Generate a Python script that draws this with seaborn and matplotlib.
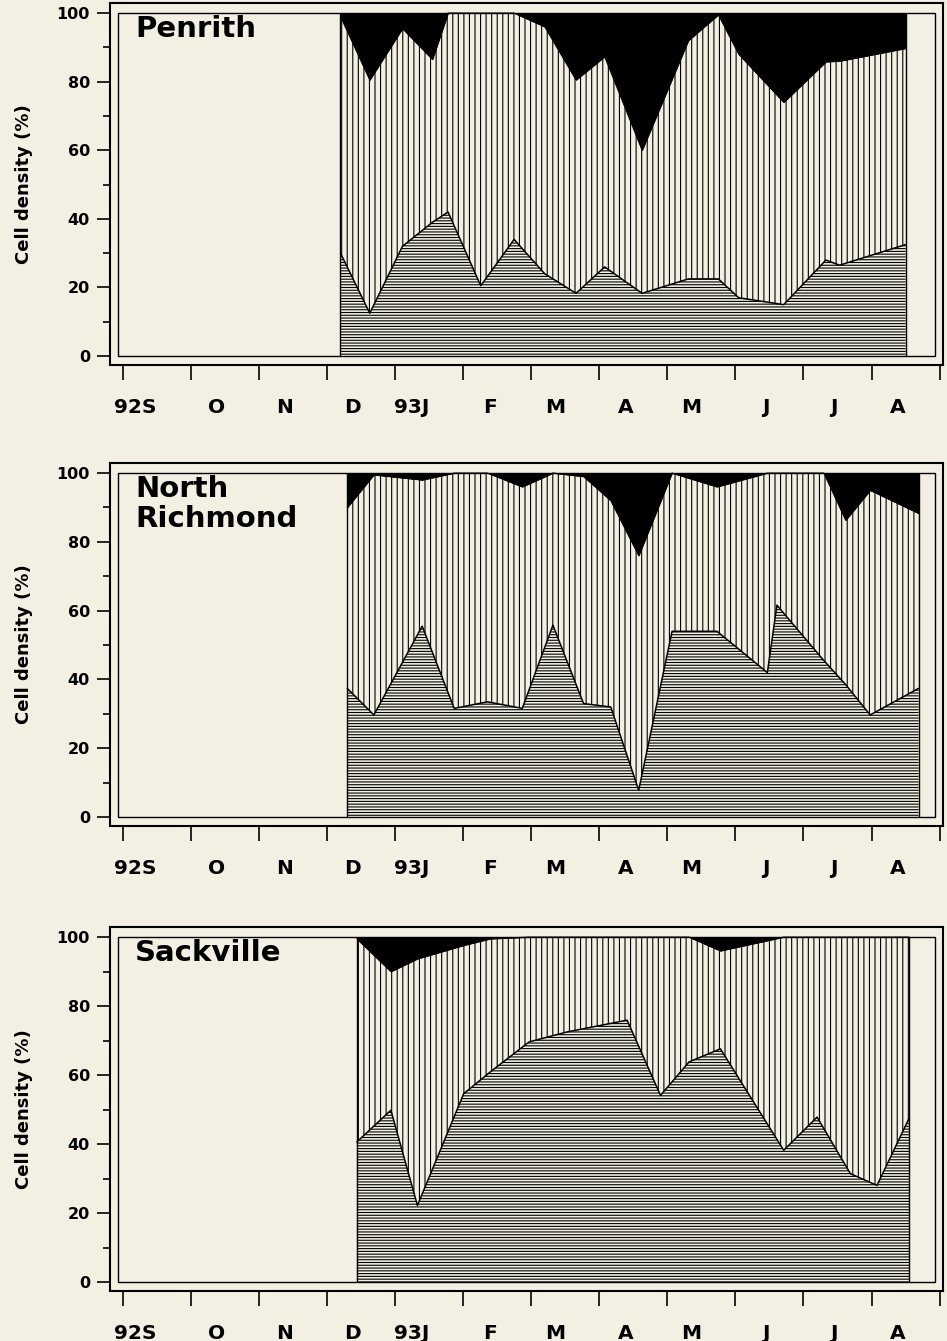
import numpy as np
import seaborn as sns
import matplotlib.pyplot as plt
from matplotlib.patches import Rectangle

# x = months since 1 Sep 1992; low = top of horizontal-hatch group,
# high = top of vertical-hatch group (black above it up to 100 %)
penrith_x = [3.20, 3.63, 4.11, 4.55, 4.78, 5.26, 5.75, 6.20, 6.66, 7.08, 7.63,
             8.31, 8.75, 9.05, 9.71, 10.33, 10.53, 11.50]
penrith_low = [30, 12.5, 32, 39, 42, 20.5, 34, 24, 18.3, 26, 18.3,
               22.5, 22.5, 17, 15, 28, 26.5, 32.5]
penrith_high = [99, 80.5, 95.5, 86.5, 100, 100, 100, 96, 80.5, 87.3, 60,
                92, 99.5, 88, 74, 85.8, 86, 89.7]

richmond_x = [3.30, 3.69, 4.40, 4.87, 5.36, 5.87, 6.32, 6.77, 7.17, 7.58,
              8.07, 8.73, 9.47, 9.61, 10.30, 10.62, 10.98, 11.69]
richmond_low = [37.4, 29.7, 55.5, 31.6, 33.5, 31.6, 55.8, 33, 32, 7.8,
                54, 54, 42, 61.6, 45.5, 38.5, 29.7, 37.4]
richmond_high = [90, 99.5, 98, 100, 100, 96, 100, 99, 92, 76,
                 100, 96, 100, 100, 100, 86.3, 95, 88.3]

sackville_x = [3.44, 3.94, 4.33, 5.01, 5.40, 5.97, 6.53, 7.41, 7.90, 8.32,
               8.78, 9.71, 10.20, 10.69, 11.08, 11.55]
sackville_low = [40.6, 49.8, 22.2, 54.6, 60.9, 69.6, 72.5, 75.9, 54.1, 63.8,
                 67.6, 38.2, 47.8, 31.4, 28, 47.4]
sackville_high = [99.5, 90, 93.7, 97.6, 99.5, 100, 100, 100, 100, 100,
                  96, 100, 100, 100, 100, 100]

month_labels = ['92S', 'O', 'N', 'D', '93J', 'F', 'M', 'A', 'M', 'J', 'J', 'A']
site_names = ['Penrith', 'North\nRichmond', 'Sackville']

sns.set_style('ticks')
plt.rcParams['font.family'] = ['DejaVu Sans']
plt.rcParams['font.weight'] = 'bold'
plt.rcParams['hatch.linewidth'] = 0.8
plt.rcParams['text.color'] = 'black'
plt.rcParams['axes.labelcolor'] = 'black'
plt.rcParams['xtick.color'] = 'black'
plt.rcParams['ytick.color'] = 'black'

BG = '#f3f0e3'
fig = plt.figure(figsize=(9.47, 13.41), dpi=100, facecolor=BG)

# axes boxes [left, bottom, width, height] in figure fraction
boxes = [[0.1162, 0.7278, 0.8796, 0.2699],
         [0.1162, 0.3840, 0.8796, 0.2707],
         [0.1162, 0.0373, 0.8796, 0.2714]]

data = [(penrith_x, penrith_low, penrith_high),
        (richmond_x, richmond_low, richmond_high),
        (sackville_x, sackville_low, sackville_high)]


def draw_panel(ax, name, x, low, high):
    ax.set_facecolor(BG)
    x = np.array(x)
    low = np.array(low)
    high = np.array(high)

    ax.fill_between(x, 0, low, facecolor=BG, edgecolor='black', hatch='------', lw=0)
    ax.fill_between(x, low, high, facecolor=BG, edgecolor='black', hatch='|||', lw=0)
    ax.fill_between(x, high, 100, facecolor='black', edgecolor='black', lw=0.5)

    sns.lineplot(x=x, y=low, ax=ax, color='black', lw=1.1)
    sns.lineplot(x=x, y=high, ax=ax, color='black', lw=0.8)
    ax.vlines([x[0], x[-1]], 0, 100, color='black', lw=1)

    # inner frame
    ax.add_patch(Rectangle((-0.07, 0), 12.0, 100, fill=False, lw=1, ec='black'))

    ax.text(0.18, 99.5, name, ha='left', va='top', fontsize=21,
            fontweight='bold', linespacing=1.1)

    ax.set_xlim(-0.185, 12.05)
    ax.set_ylim(-2.6, 102.9)

    ax.set_xticks(np.arange(0, 13))
    ax.set_xticklabels([])
    ax.set_xticks(np.arange(12) + 0.5, minor=True)
    ax.set_xticklabels(month_labels, minor=True)
    for lab in ax.get_xticklabels(minor=True):
        lab.set_horizontalalignment('right')
    ax.tick_params(axis='x', which='major', direction='out', length=11, width=1.2)
    ax.tick_params(axis='x', which='minor', length=0, pad=24, labelsize=14.5)

    ax.set_yticks(np.arange(0, 101, 20))
    ax.set_yticks(np.arange(10, 100, 20), minor=True)
    ax.tick_params(axis='y', which='major', direction='out', length=9.5, width=1.2,
                   labelsize=11.5, pad=5)
    ax.tick_params(axis='y', which='minor', direction='out', length=5, width=1.2)

    ax.set_ylabel('Cell density (%)', fontsize=13, fontweight='bold')
    ax.yaxis.set_label_coords(-0.093, 0.5)
    ax.set_xlabel('')

    for s in ax.spines.values():
        s.set_visible(True)
        s.set_linewidth(1.5)
        s.set_color('black')


for box, name, (x, low, high) in zip(boxes, site_names, data):
    ax = fig.add_axes(box)
    draw_panel(ax, name, x, low, high)

fig.savefig('out.png', dpi=100, facecolor=BG)
